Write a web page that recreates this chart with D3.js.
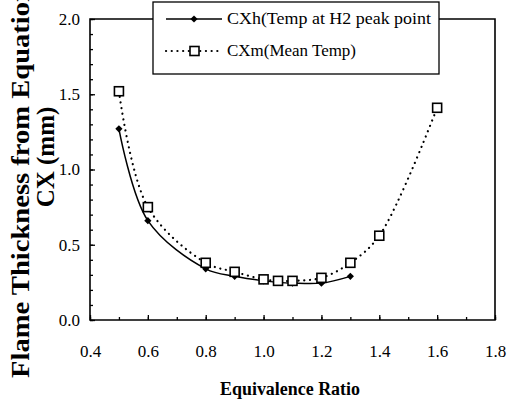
<!DOCTYPE html>
<html>
<head>
<meta charset="utf-8">
<script src="https://cdn.jsdelivr.net/npm/d3@7"></script>
<style>
  body { margin: 0; background: #fff; }
  svg { display: block; }
</style>
</head>
<body>
<div id="chart"></div>
<script>
// data
const phiH = [0.5, 0.6, 0.8, 0.9, 1.0, 1.05, 1.1, 1.2, 1.3];
const cxh  = [1.27, 0.66, 0.34, 0.29, 0.26, 0.25, 0.245, 0.245, 0.29];
const phiM = [0.5, 0.6, 0.8, 0.9, 1.0, 1.05, 1.1, 1.2, 1.3, 1.4, 1.6];
const cxm  = [1.52, 0.75, 0.38, 0.32, 0.27, 0.26, 0.26, 0.28, 0.38, 0.56, 1.41];
const xTicks = [0.4, 0.6, 0.8, 1.0, 1.2, 1.4, 1.6, 1.8];
const yTicks = [0.0, 0.5, 1.0, 1.5, 2.0];
const legendLabels = ["CXh(Temp at H2 peak point", "CXm(Mean Temp)"];

const width = 508, height = 404;
const plot = { left: 90, right: 495, top: 19, bottom: 320 };
const FONT = "'Liberation Serif', 'Times New Roman', 'DejaVu Serif', serif";

const svg = d3.select('#chart').append('svg')
  .attr('width', width)
  .attr('height', height);

const x = d3.scaleLinear().domain([0.4, 1.8]).range([plot.left, plot.right]);
const y = d3.scaleLinear().domain([0, 2]).range([plot.bottom, plot.top]);

// minor ticks (0.1 steps), inward
const minorX = d3.range(4, 19).map(d => d / 10);
const minorY = d3.range(0, 21).map(d => d / 10);

svg.append('g')
  .attr('transform', `translate(0,${plot.bottom})`)
  .call(d3.axisBottom(x).tickValues(minorX).tickSize(-3).tickSizeOuter(0).tickFormat(''))
  .call(g => g.select('.domain').remove());

svg.append('g')
  .attr('transform', `translate(${plot.left},0)`)
  .call(d3.axisLeft(y).tickValues(minorY).tickSize(-3).tickSizeOuter(0).tickFormat(''))
  .call(g => g.select('.domain').remove());

// major ticks + labels
svg.append('g')
  .attr('transform', `translate(0,${plot.bottom})`)
  .call(d3.axisBottom(x).tickValues(xTicks).tickSize(-5).tickSizeOuter(0)
    .tickPadding(25).tickFormat(d3.format('.1f')))
  .call(g => g.select('.domain').remove())
  .call(g => g.selectAll('text').style('font-family', FONT).style('font-size', '17px'));

svg.append('g')
  .attr('transform', `translate(${plot.left},0)`)
  .call(d3.axisLeft(y).tickValues(yTicks).tickSize(-5).tickSizeOuter(0)
    .tickPadding(10).tickFormat(d3.format('.1f')))
  .call(g => g.select('.domain').remove())
  .call(g => g.selectAll('text').style('font-family', FONT).style('font-size', '17px'));

svg.selectAll('.tick line').attr('stroke', '#000').attr('stroke-width', 1.3);

// frame
svg.append('path')
  .attr('d', `M${plot.left},${plot.top}V${plot.bottom}H${plot.right}V${plot.top}Z`)
  .attr('fill', 'none')
  .attr('stroke', '#000')
  .attr('stroke-width', 1.6);

// curves
const curve = d3.curveCatmullRom.alpha(0.5);
const lineH = d3.line().x((d, i) => x(phiH[i])).y(d => y(d)).curve(curve);
const lineM = d3.line().x((d, i) => x(phiM[i])).y(d => y(d)).curve(curve);

svg.append('path')
  .attr('d', lineH(cxh))
  .attr('fill', 'none')
  .attr('stroke', '#000')
  .attr('stroke-width', 1.5);

svg.append('path')
  .attr('d', lineM(cxm))
  .attr('fill', 'none')
  .attr('stroke', '#000')
  .attr('stroke-width', 2.2)
  .attr('stroke-linecap', 'round')
  .attr('stroke-dasharray', '0.1,5.6');

// small square diamond
const diamond = 'M0,-3.6L3.6,0L0,3.6L-3.6,0Z';

svg.append('g').selectAll('path')
  .data(cxh)
  .join('path')
  .attr('transform', (d, i) => `translate(${x(phiH[i])},${y(d)})`)
  .attr('d', diamond)
  .attr('fill', '#000');

svg.append('g').selectAll('rect')
  .data(cxm)
  .join('rect')
  .attr('x', (d, i) => x(phiM[i]) - 4.5)
  .attr('y', d => y(d) - 4.5)
  .attr('width', 9)
  .attr('height', 9)
  .attr('fill', '#fff')
  .attr('stroke', '#000')
  .attr('stroke-width', 1.6);

// legend
const legend = svg.append('g');
legend.append('rect')
  .attr('x', 153).attr('y', 2)
  .attr('width', 286).attr('height', 72)
  .attr('fill', '#fff')
  .attr('stroke', '#000')
  .attr('stroke-width', 1.3);

const rowY = [19, 51];
legend.append('line')
  .attr('x1', 166).attr('x2', 222).attr('y1', rowY[0]).attr('y2', rowY[0])
  .attr('stroke', '#000').attr('stroke-width', 1.5);
legend.append('path')
  .attr('transform', `translate(194,${rowY[0]})`)
  .attr('d', diamond)
  .attr('fill', '#000');
legend.append('line')
  .attr('x1', 166).attr('x2', 222).attr('y1', rowY[1]).attr('y2', rowY[1])
  .attr('stroke', '#000').attr('stroke-width', 2.2)
  .attr('stroke-linecap', 'round').attr('stroke-dasharray', '0.1,5.6');
legend.append('rect')
  .attr('x', 190).attr('y', rowY[1] - 4.5)
  .attr('width', 9).attr('height', 9)
  .attr('fill', '#fff').attr('stroke', '#000').attr('stroke-width', 1.6);

const textLens = [204, 129];
legend.selectAll('text.lbl')
  .data(legendLabels)
  .join('text')
  .attr('class', 'lbl')
  .attr('x', 227)
  .attr('y', (d, i) => rowY[i] + 5)
  .style('font-family', FONT)
  .style('font-size', '16px')
  .attr('textLength', (d, i) => textLens[i])
  .attr('lengthAdjust', 'spacingAndGlyphs')
  .text(d => d);

// axis titles
svg.append('text')
  .attr('x', 290).attr('y', 395)
  .attr('text-anchor', 'middle')
  .style('font-family', FONT)
  .style('font-size', '18px')
  .style('font-weight', 'bold')
  .attr('textLength', 140)
  .attr('lengthAdjust', 'spacingAndGlyphs')
  .text('Equivalence Ratio');

svg.append('text')
  .attr('transform', 'translate(29,378) rotate(-90)')
  .attr('text-anchor', 'start')
  .style('font-family', FONT)
  .style('font-size', '25px')
  .style('font-weight', 'bold')
  .attr('textLength', 392)
  .attr('lengthAdjust', 'spacingAndGlyphs')
  .text('Flame Thickness from Equation');

svg.append('text')
  .attr('transform', 'translate(54,157) rotate(-90)')
  .attr('text-anchor', 'middle')
  .style('font-family', FONT)
  .style('font-size', '25px')
  .style('font-weight', 'bold')
  .text('CX (mm)');
</script>
</body>
</html>
